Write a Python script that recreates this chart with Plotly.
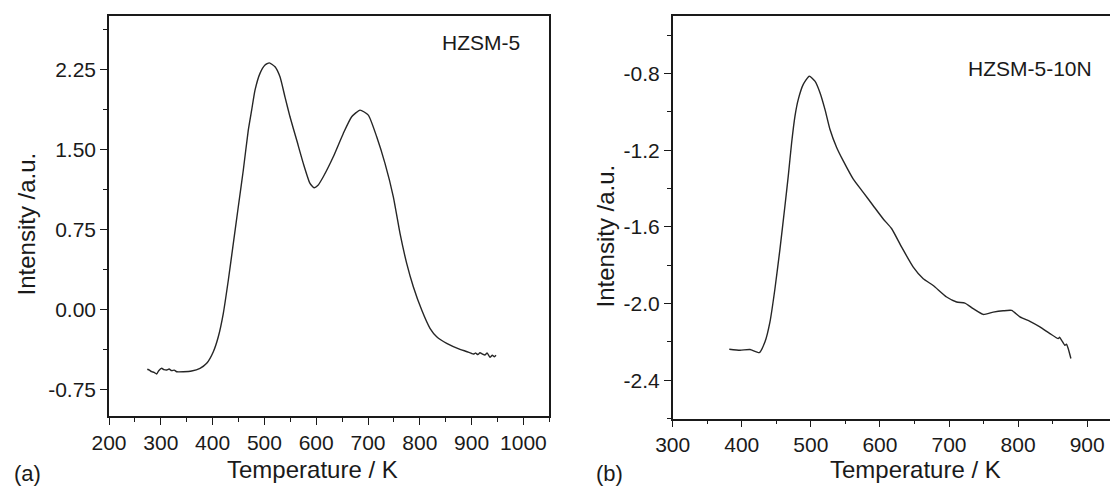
import plotly.graph_objects as go

# ---------------- data ----------------
left_T = [273.9, 278, 282.4, 287, 292, 296, 301.7, 306, 311.4, 316, 321, 326, 330.7,
          343.5, 359.6, 375.7, 388.6, 401.4, 411, 420.7, 430.4, 440, 449.6, 459.3,
          468.9, 475.4, 481.9, 491.5, 501.2, 509.5, 520.5, 530.1, 539.8, 549.4, 562.3,
          575.1, 588, 596, 603, 613.7, 633, 652.3, 668.5, 684.6, 700.6, 716.8, 732.8,
          748.9, 761.8, 774.7, 787.5, 803.7, 819.7, 832.6, 851.9, 877.6, 890, 903.3,
          908, 912, 916.2, 921, 925.9, 930, 935.5, 940, 944, 947.1]
left_I = [-0.562, -0.57, -0.585, -0.59, -0.606, -0.575, -0.553, -0.565, -0.569, -0.56,
          -0.575, -0.57, -0.585, -0.585, -0.578, -0.553, -0.506, -0.397, -0.257, -0.037,
          0.275, 0.618, 0.962, 1.306, 1.68, 1.868, 2.055, 2.212, 2.29, 2.311, 2.274,
          2.18, 1.99, 1.805, 1.587, 1.368, 1.181, 1.14, 1.16, 1.243, 1.43, 1.649, 1.805,
          1.868, 1.821, 1.618, 1.368, 1.055, 0.712, 0.431, 0.212, -0.007, -0.178,
          -0.257, -0.319, -0.375, -0.395, -0.419, -0.41, -0.425, -0.407, -0.42, -0.428,
          -0.41, -0.45, -0.43, -0.445, -0.431]

right_T = [381.9, 397.4, 411.9, 425.3, 433.6, 440.8, 448, 455.3, 462.5, 467.3, 472.2,
           477, 481.8, 489, 497.7, 505.9, 513.2, 520.4, 527.6, 537.3, 546.9, 561.4,
           575.8, 590.3, 604.8, 617, 631.4, 648.2, 662.7, 677.1, 696.5, 711, 723, 735,
           749.5, 764, 778.4, 790.6, 802.6, 817.1, 831.5, 846, 858, 860, 863, 867.7,
           870, 872.5, 876.4]
right_I = [-2.239, -2.244, -2.24, -2.256, -2.2, -2.096, -1.923, -1.715, -1.49, -1.334,
           -1.16, -1.022, -0.935, -0.857, -0.814, -0.84, -0.9, -0.987, -1.091, -1.186,
           -1.256, -1.351, -1.42, -1.49, -1.559, -1.61, -1.706, -1.81, -1.871, -1.906,
           -1.966, -1.992, -1.998, -2.027, -2.057, -2.045, -2.038, -2.036, -2.07, -2.093,
           -2.122, -2.157, -2.183, -2.176, -2.192, -2.218, -2.212, -2.235, -2.287]

left_xticks = [200, 300, 400, 500, 600, 700, 800, 900, 1000]
left_xlabels = ["200", "300", "400", "500", "600", "700", "800", "900", "1000"]
left_yticks = [-0.75, 0.0, 0.75, 1.5, 2.25]
left_ylabels = ["-0.75", "0.00", "0.75", "1.50", "2.25"]
right_xticks = [300, 400, 500, 600, 700, 800, 900]
right_xlabels = ["300", "400", "500", "600", "700", "800", "900"]
right_yticks = [-2.4, -2.0, -1.6, -1.2, -0.8]
right_ylabels = ["-2.4", "-2.0", "-1.6", "-1.2", "-0.8"]

# ---------------- figure ----------------
W, H = 1110, 486
FONT = "Liberation Sans, Arial, Helvetica, sans-serif"
INK = "#1a1a1a"

fig = go.Figure()
fig.add_trace(go.Scatter(x=left_T, y=left_I, mode="lines",
                         line=dict(color="#262626", width=1.4, shape="spline", smoothing=0.5),
                         xaxis="x", yaxis="y", showlegend=False))
fig.add_trace(go.Scatter(x=right_T, y=right_I, mode="lines",
                         line=dict(color="#262626", width=1.4, shape="spline", smoothing=0.5),
                         xaxis="x2", yaxis="y2", showlegend=False))

def px_x(p):
    return p / W

def px_y(p):
    return 1 - p / H

common = dict(showgrid=False, zeroline=False, showline=True, linecolor=INK,
              linewidth=1.5, ticks="outside", ticklen=7, tickwidth=1.3,
              tickcolor=INK, automargin=False,
              tickfont=dict(family=FONT, size=21, color=INK))

fig.update_layout(
    width=W, height=H,
    margin=dict(l=0, r=0, t=0, b=0, pad=0),
    paper_bgcolor="white", plot_bgcolor="white",
    xaxis=dict(domain=[px_x(109), px_x(549.3)], range=[200, 1050], anchor="y",
               tickmode="array", tickvals=left_xticks, ticktext=left_xlabels,
               minor=dict(ticks="outside", ticklen=4, dtick=50, tick0=200,
                          tickcolor=INK, tickwidth=1.2),
               mirror=True, **common),
    yaxis=dict(domain=[px_y(416), px_y(16)], range=[-1.0, 2.75], anchor="x",
               tickmode="array", tickvals=left_yticks, ticktext=left_ylabels,
               minor=dict(ticks="outside", ticklen=4, dtick=0.375, tick0=0,
                          tickcolor=INK, tickwidth=1.2),
               mirror=True, **common),
    xaxis2=dict(domain=[px_x(672.7), 1.0], range=[300, 933], anchor="y2",
                tickmode="array", tickvals=right_xticks, ticktext=right_xlabels,
                minor=dict(ticks="outside", ticklen=4, dtick=50, tick0=300,
                           tickcolor=INK, tickwidth=1.2),
                mirror=True, **common),
    yaxis2=dict(domain=[px_y(418.5), px_y(16)], range=[-2.6, -0.5], anchor="x2",
                tickmode="array", tickvals=right_yticks, ticktext=right_ylabels,
                minor=dict(ticks="outside", ticklen=4, dtick=0.2, tick0=-0.8,
                           tickcolor=INK, tickwidth=1.2),
                mirror=False, **common),
)

def txt(text, x, y, size, angle=0):
    fig.add_annotation(text=text, x=px_x(x), y=px_y(y), xref="paper", yref="paper",
                       showarrow=False, textangle=angle, xanchor="center",
                       yanchor="middle", font=dict(family=FONT, size=size, color=INK))

txt("HZSM-5", 481, 43, 21)
txt("HZSM-5-10N", 1029.5, 68.5, 21)
txt("Temperature / K", 312, 469, 24)
txt("Temperature / K", 915, 469, 24)
txt("Intensity /a.u.", 26, 224.5, 24, angle=-90)
txt("Intensity /a.u.", 605, 236.5, 24, angle=-90)
txt("(a)", 27.5, 473, 22)
txt("(b)", 609.5, 473, 22)

fig.write_html("out.html",
               config={"displayModeBar": False},
               post_script="document.body.style.margin='0';document.body.style.overflow='hidden';")
